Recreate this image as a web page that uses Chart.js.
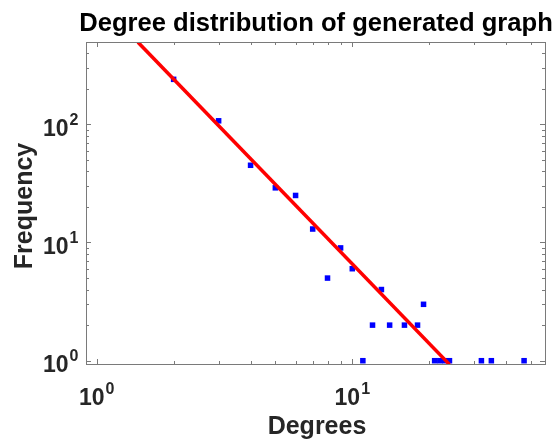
<!DOCTYPE html>
<html>
<head>
<meta charset="utf-8">
<script src="https://cdn.jsdelivr.net/npm/chart.js@4.4.1/dist/chart.umd.min.js"></script>
<style>
html,body{margin:0;padding:0;background:#fff;}
#wrap{width:557px;height:441px;}
</style>
</head>
<body>
<div id="wrap"><canvas id="c" width="557" height="441"></canvas></div>
<script>
// ---- data ----
const degrees     = [2, 3, 4, 5, 6, 7, 8, 9, 10, 11, 12, 13, 14, 16, 18, 19, 21, 22, 23, 24, 32, 35, 47];
const frequencies = [240, 107, 45, 29, 25, 13, 5, 9, 6, 1, 2, 4, 2, 2, 2, 3, 1, 1, 1, 1, 1, 1, 1];
const fitX = [1.45, 24.0];
const fitY = [495, 0.93];
const xMajorTicks = [1, 10];
const xMinorTicks = [2, 3, 4, 5, 6, 7, 8, 9, 20, 30, 40, 50];
const yMajorTicks = [1, 10, 100];
const yMinorTicks = [2, 3, 4, 5, 6, 7, 8, 9, 20, 30, 40, 50, 60, 70, 80, 90, 200, 300, 400];
const xTickExponents = ['0', '1'];
const yTickExponents = ['0', '1', '2'];
const titleText = 'Degree distribution of generated graph';
const xTitle = 'Degrees';
const yTitle = 'Frequency';

const FONT = "'Liberation Sans', Arial, Helvetica, sans-serif";
const TEXT = '#262626';
const AXIS = '#7a7a7a';

const axesPlugin = {
  id: 'matlabAxes',
  afterDatasetsDraw(chart) {
    const ctx = chart.ctx;
    const a = chart.chartArea;
    const xs = chart.scales.x, ys = chart.scales.y;
    ctx.save();
    // box
    ctx.strokeStyle = AXIS;
    ctx.lineWidth = 1;
    ctx.strokeRect(Math.round(a.left) + 0.5, Math.round(a.top) + 0.5,
                   Math.round(a.right - a.left), Math.round(a.bottom - a.top));
    // ticks (inside, on all four sides)
    ctx.beginPath();
    const xt = (vals, len) => vals.forEach(v => {
      const px = Math.round(xs.getPixelForValue(v)) + 0.5;
      ctx.moveTo(px, a.bottom); ctx.lineTo(px, a.bottom - len);
      ctx.moveTo(px, a.top); ctx.lineTo(px, a.top + len);
    });
    const yt = (vals, len) => vals.forEach(v => {
      const py = Math.round(ys.getPixelForValue(v)) + 0.5;
      ctx.moveTo(a.left, py); ctx.lineTo(a.left + len, py);
      ctx.moveTo(a.right, py); ctx.lineTo(a.right - len, py);
    });
    xt(xMajorTicks, 5); xt(xMinorTicks, 3);
    yt(yMajorTicks, 5); yt(yMinorTicks, 3);
    ctx.stroke();

    // tick labels 10^n
    ctx.fillStyle = TEXT;
    const baseFont = 'bold 23px ' + FONT;
    const expFont = 'bold 16px ' + FONT;
    ctx.textBaseline = 'alphabetic';
    xMajorTicks.forEach((v, i) => {
      const px = xs.getPixelForValue(v);
      ctx.font = baseFont; const wb = ctx.measureText('10').width;
      ctx.font = expFont; const we = ctx.measureText(xTickExponents[i]).width;
      const x0 = px - (wb + we + 1) / 2;
      ctx.font = baseFont; ctx.textAlign = 'left';
      ctx.fillText('10', x0, 405);
      ctx.font = expFont;
      ctx.fillText(xTickExponents[i], x0 + wb + 1, 393.5);
    });
    yMajorTicks.forEach((v, i) => {
      const py = ys.getPixelForValue(v);
      ctx.font = expFont; const we = ctx.measureText(yTickExponents[i]).width;
      ctx.font = baseFont; const wb = ctx.measureText('10').width;
      const xr = 78.5;
      ctx.textAlign = 'left';
      ctx.font = baseFont;
      ctx.fillText('10', xr - we - 1 - wb, py + 11.7);
      ctx.font = expFont;
      ctx.fillText(yTickExponents[i], xr - we, py + 0.7);
    });

    // axis titles
    ctx.font = 'bold 25px ' + FONT;
    ctx.textAlign = 'center';
    ctx.fillText(xTitle, 317, 434);
    ctx.save();
    ctx.translate(31.5, 206);
    ctx.rotate(-Math.PI / 2);
    ctx.fillText(yTitle, 0, 0);
    ctx.restore();

    // title
    ctx.fillStyle = '#000';
    ctx.font = 'bold 25.6px ' + FONT;
    ctx.fillText(titleText, 316, 31);
    ctx.restore();
  }
};

new Chart(document.getElementById('c'), {
  type: 'scatter',
  data: {
    datasets: [
      {
        type: 'line',
        label: 'fit',
        data: fitX.map((x, i) => ({x: x, y: fitY[i]})),
        borderColor: '#ff0000',
        borderWidth: 3.5,
        pointRadius: 0,
        fill: false,
        tension: 0
      },
      {
        label: 'degree distribution',
        data: degrees.map((d, i) => ({x: d, y: frequencies[i]})),
        backgroundColor: '#0000ff',
        borderWidth: 0,
        pointStyle: 'rect',
        pointRadius: 3.9,
        pointHoverRadius: 3.9
      }
    ]
  },
  options: {
    responsive: false,
    animation: false,
    devicePixelRatio: 1,
    layout: { padding: { left: 86, right: 12, top: 42, bottom: 77 } },
    plugins: { legend: { display: false }, tooltip: { enabled: false }, title: { display: false } },
    scales: {
      x: { type: 'logarithmic', min: 0.9082, max: 56.75, display: false },
      y: { type: 'logarithmic', min: 0.938, max: 496.6, display: false }
    }
  },
  plugins: [axesPlugin]
});
</script>
</body>
</html>
